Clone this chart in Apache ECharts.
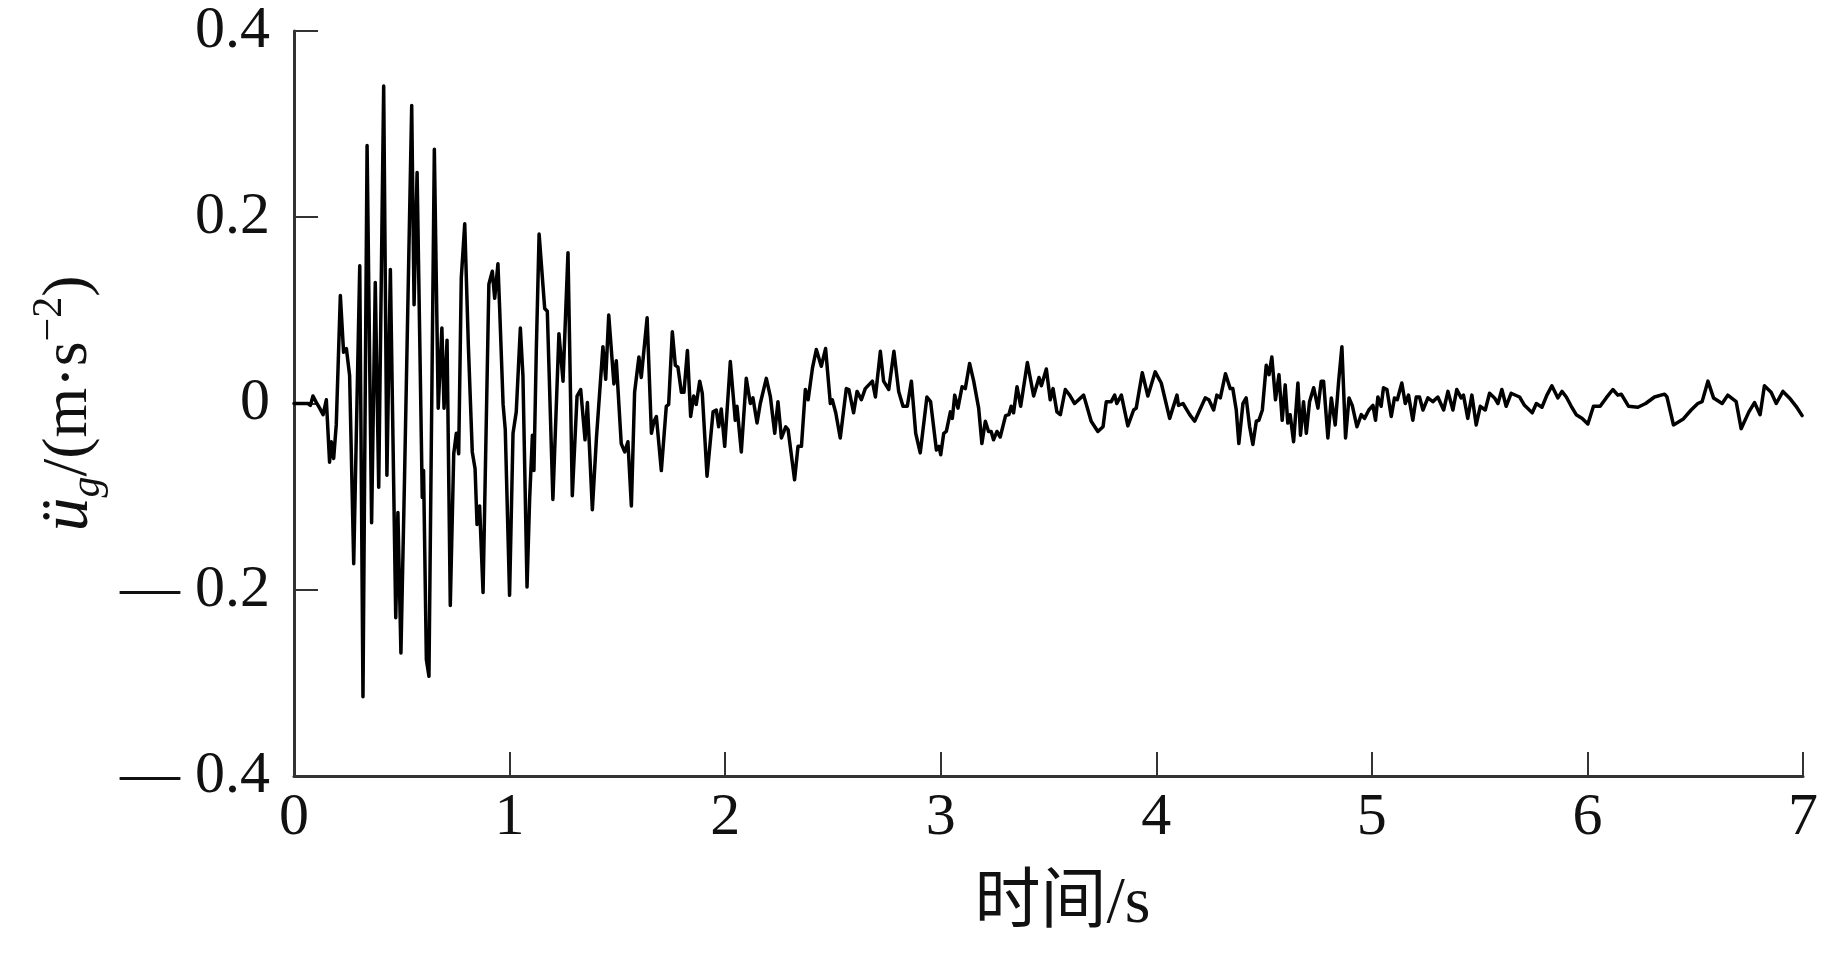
<!DOCTYPE html>
<html>
<head>
<meta charset="utf-8">
<script src="https://cdn.jsdelivr.net/npm/echarts@6/dist/echarts.min.js"></script>
<style>
html,body{margin:0;padding:0;background:#fff;}
#chart{width:1824px;height:961px;}
</style>
</head>
<body>
<div id="chart"></div>
<script>
// time [s], ground acceleration [m/s^2]
const record_0_1s = [[0,0],[0.065,0],[0.076,-0.002],[0.088,0.008],[0.104,0.001],[0.119,-0.005],[0.135,-0.012],[0.150,0.004],[0.165,-0.063],[0.173,-0.041],[0.184,-0.059],[0.196,-0.023],[0.215,0.116],[0.230,0.055],[0.243,0.059],[0.258,0.030],[0.277,-0.172],[0.305,0.148],[0.320,-0.315],[0.339,0.277],[0.360,-0.128],[0.377,0.130],[0.393,-0.090],[0.416,0.341],[0.431,-0.077],[0.447,0.144],[0.472,-0.230],[0.482,-0.117],[0.496,-0.268],[0.513,-0.077],[0.546,0.320],[0.557,0.106],[0.571,0.248],[0.595,-0.101],[0.601,-0.072],[0.614,-0.275],[0.626,-0.293],[0.651,0.273],[0.669,-0.005],[0.686,0.081],[0.696,-0.005],[0.710,0.068],[0.725,-0.217],[0.741,-0.054],[0.753,-0.032],[0.764,-0.054],[0.776,0.135],[0.792,0.193],[0.809,0.061],[0.827,-0.052],[0.840,-0.070],[0.849,-0.130],[0.861,-0.110],[0.877,-0.203],[0.904,0.128],[0.920,0.142],[0.931,0.113],[0.946,0.150]];
const record_1_2s = [[0.954,0.102],[0.970,-0.001],[0.980,-0.028],[1.000,-0.206],[1.016,-0.032],[1.031,-0.009],[1.050,0.081],[1.062,0.030],[1.081,-0.197],[1.093,-0.103],[1.106,-0.034],[1.113,-0.072],[1.124,0.057],[1.137,0.182],[1.163,0.102],[1.175,0.099],[1.201,-0.103],[1.229,0.075],[1.248,0.024],[1.271,0.162],[1.291,-0.099],[1.313,0.008],[1.330,0.015],[1.350,-0.039],[1.361,0.001],[1.384,-0.114],[1.403,-0.037],[1.433,0.061],[1.446,0.026],[1.460,0.095],[1.484,0.021],[1.495,0.046],[1.518,-0.043],[1.534,-0.052],[1.549,-0.041],[1.565,-0.110],[1.580,0.012],[1.600,0.050],[1.611,0.028],[1.638,0.092],[1.658,-0.032],[1.670,-0.019],[1.681,-0.014],[1.704,-0.072],[1.727,-0.003],[1.738,-0.001],[1.755,0.077],[1.769,0.041],[1.781,0.039],[1.797,0.012],[1.809,0.012],[1.825,0.057],[1.840,-0.014],[1.854,0.008],[1.866,-0.001],[1.882,0.024],[1.894,0.011]];
const record_2_3s = [[1.916,-0.078],[1.944,-0.009],[1.959,-0.007],[1.970,-0.025],[1.982,-0.006],[1.998,-0.046],[2.024,0.045],[2.047,-0.018],[2.055,-0.003],[2.075,-0.052],[2.098,0.027],[2.117,0.000],[2.129,0.006],[2.148,-0.021],[2.163,0.000],[2.172,0.000],[2.191,0.027],[2.210,0.007],[2.230,-0.032],[2.245,0.002],[2.261,-0.037],[2.281,-0.025],[2.292,-0.028],[2.322,-0.082],[2.338,-0.046],[2.354,-0.046],[2.372,0.015],[2.385,0.004],[2.405,0.038],[2.423,0.058],[2.446,0.040],[2.466,0.059],[2.488,0.000],[2.497,0.004],[2.513,-0.010],[2.534,-0.037],[2.562,0.016],[2.574,0.015],[2.596,-0.010],[2.612,0.013],[2.632,0.004],[2.650,0.016],[2.683,0.024],[2.697,0.007],[2.720,0.056],[2.735,0.024],[2.759,0.015],[2.783,0.056],[2.805,0.013],[2.825,-0.003],[2.845,-0.003],[2.864,0.024],[2.884,-0.032],[2.905,-0.053],[2.936,0.007],[2.953,0.002],[2.980,-0.050],[2.992,-0.046],[3.000,-0.055],[3.014,-0.032],[3.026,-0.030],[3.045,-0.009],[3.054,-0.016],[3.065,0.009],[3.080,-0.005],[3.099,0.018],[3.114,0.016],[3.134,0.043]];
const record_3_4s = [[3.153,0.024],[3.176,-0.005],[3.191,-0.043],[3.207,-0.019],[3.222,-0.030],[3.234,-0.030],[3.245,-0.039],[3.261,-0.030],[3.276,-0.036],[3.301,-0.013],[3.316,-0.012],[3.327,-0.003],[3.338,-0.010],[3.354,0.018],[3.371,-0.003],[3.402,0.044],[3.431,0.008],[3.456,0.028],[3.467,0.019],[3.490,0.037],[3.508,0.004],[3.521,0.016],[3.539,-0.009],[3.555,-0.012],[3.578,0.015],[3.598,0.009],[3.621,0.000],[3.663,0.009],[3.698,-0.019],[3.729,-0.030],[3.753,-0.025],[3.768,0.002],[3.791,0.002],[3.807,0.009],[3.817,0.000],[3.838,0.009],[3.868,-0.024],[3.895,-0.007],[3.907,-0.005],[3.935,0.033],[3.961,0.008],[3.995,0.034],[4.023,0.022],[4.062,-0.016],[4.096,0.009],[4.103,-0.002],[4.124,0.000],[4.155,-0.012],[4.178,-0.019],[4.227,0.006],[4.244,0.004],[4.266,-0.007],[4.281,0.009],[4.297,0.006],[4.321,0.032],[4.343,0.016],[4.355,0.016],[4.371,-0.007],[4.383,-0.043]];
const record_4_5s = [[4.402,0.000],[4.417,0.006],[4.433,-0.025],[4.448,-0.044],[4.464,-0.019],[4.476,-0.018],[4.492,-0.007],[4.510,0.041],[4.523,0.031],[4.536,0.050],[4.553,0.004],[4.569,0.031],[4.584,-0.018],[4.598,0.020],[4.610,-0.021],[4.621,-0.012],[4.637,-0.041],[4.657,0.022],[4.669,-0.034],[4.683,0.002],[4.696,-0.032],[4.711,0.002],[4.730,0.017],[4.750,-0.005],[4.765,0.024],[4.776,0.024],[4.796,-0.037],[4.812,0.006],[4.830,-0.023],[4.846,0.024],[4.861,0.061],[4.878,-0.037],[4.894,0.006],[4.909,-0.002],[4.931,-0.025],[4.951,-0.012],[4.966,-0.016],[4.986,-0.007],[5.005,-0.002],[5.017,-0.018],[5.028,0.007],[5.043,-0.003],[5.054,0.017],[5.070,0.015],[5.090,-0.014],[5.105,0.006],[5.118,0.004],[5.139,0.022],[5.155,0.000],[5.170,0.009],[5.190,-0.018],[5.206,0.007],[5.221,0.007],[5.237,-0.007],[5.260,0.006],[5.283,0.002],[5.306,0.007],[5.333,-0.007],[5.353,0.013],[5.376,-0.007],[5.394,0.015],[5.414,0.006],[5.425,0.009],[5.445,-0.016],[5.464,0.009],[5.484,-0.023],[5.503,-0.003],[5.526,-0.007],[5.546,0.011],[5.569,0.006],[5.585,0.000],[5.603,0.015],[5.623,-0.003],[5.646,0.011],[5.685,0.007]];
const record_5_7s = [[5.708,-0.002],[5.744,-0.010],[5.763,0.000],[5.789,-0.004],[5.812,0.009],[5.835,0.019],[5.863,0.006],[5.882,0.013],[5.902,0.007],[5.925,-0.003],[5.948,-0.012],[5.976,-0.016],[6.002,-0.022],[6.028,-0.003],[6.059,-0.003],[6.087,0.006],[6.118,0.015],[6.141,0.009],[6.157,0.010],[6.191,-0.003],[6.234,-0.004],[6.270,0.000],[6.311,0.007],[6.358,0.010],[6.369,0.007],[6.399,-0.023],[6.443,-0.017],[6.481,-0.007],[6.512,0.000],[6.532,0.002],[6.559,0.024],[6.585,0.006],[6.625,0.000],[6.651,0.009],[6.690,0.002],[6.713,-0.027],[6.749,-0.009],[6.775,0.001],[6.801,-0.012],[6.821,0.019],[6.852,0.012],[6.876,0.000],[6.907,0.013],[6.937,0.006],[6.968,-0.003],[6.996,-0.013]];

const xTicks = {min: 0, max: 7, interval: 1};
const yTicks = {min: -0.4, max: 0.4, interval: 0.2};
const xName = '时间/s';

const record = [].concat(record_0_1s, record_1_2s, record_2_3s, record_3_4s, record_4_5s, record_5_7s);

const FONT = "'Liberation Serif', 'Noto Sans CJK SC', serif";
const chart = echarts.init(document.getElementById('chart'));
chart.setOption({
  animation: false,
  backgroundColor: '#ffffff',
  grid: {left: 294, right: 21, top: 31, bottom: 185, containLabel: false},
  xAxis: {
    type: 'value', min: xTicks.min, max: xTicks.max, interval: xTicks.interval,
    name: xName, nameLocation: 'middle', nameGap: 96,
    nameTextStyle: {fontFamily: FONT, fontSize: 66, color: '#111', padding: [0, 0, 0, 28]},
    axisLine: {show: true, onZero: false, lineStyle: {color: '#333', width: 3}},
    axisTick: {show: true, inside: true, length: 24, lineStyle: {color: '#333', width: 2}},
    axisLabel: {fontFamily: FONT, fontSize: 60, color: '#111', margin: 12},
    splitLine: {show: false}
  },
  yAxis: {
    type: 'value', min: yTicks.min, max: yTicks.max, interval: yTicks.interval,
    name: '{it|ü}{sub|g}{n|/(m·s}{sup|−2}{n|)}',
    nameLocation: 'middle', nameRotate: 90, nameGap: 166,
    nameTextStyle: {
      fontFamily: FONT, fontSize: 64, color: '#111',
      rich: {
        it: {fontFamily: FONT, fontSize: 68, fontStyle: 'italic', lineHeight: 80, color: '#111'},
        sub: {fontFamily: FONT, fontSize: 42, fontStyle: 'italic', lineHeight: 38, verticalAlign: 'bottom', color: '#111'},
        n: {fontFamily: FONT, fontSize: 64, lineHeight: 80, color: '#111'},
        sup: {fontFamily: FONT, fontSize: 42, lineHeight: 38, verticalAlign: 'top', color: '#111'}
      }
    },
    axisLine: {show: true, onZero: false, lineStyle: {color: '#333', width: 3}},
    axisTick: {show: true, inside: true, length: 24, lineStyle: {color: '#333', width: 2}},
    axisLabel: {
      fontFamily: FONT, fontSize: 60, color: '#111', margin: 24,
      formatter: function (v) {
        const r = Math.round(v * 10) / 10;
        if (r === 0) return '0';
        return (r < 0 ? '— ' : '') + Math.abs(r).toFixed(1);
      }
    },
    splitLine: {show: false}
  },
  series: [{
    type: 'line',
    data: record,
    showSymbol: false,
    symbol: 'none',
    lineStyle: {color: '#000', width: 3.5, join: 'round', cap: 'round'},
    clip: false
  }]
});
</script>
</body>
</html>
